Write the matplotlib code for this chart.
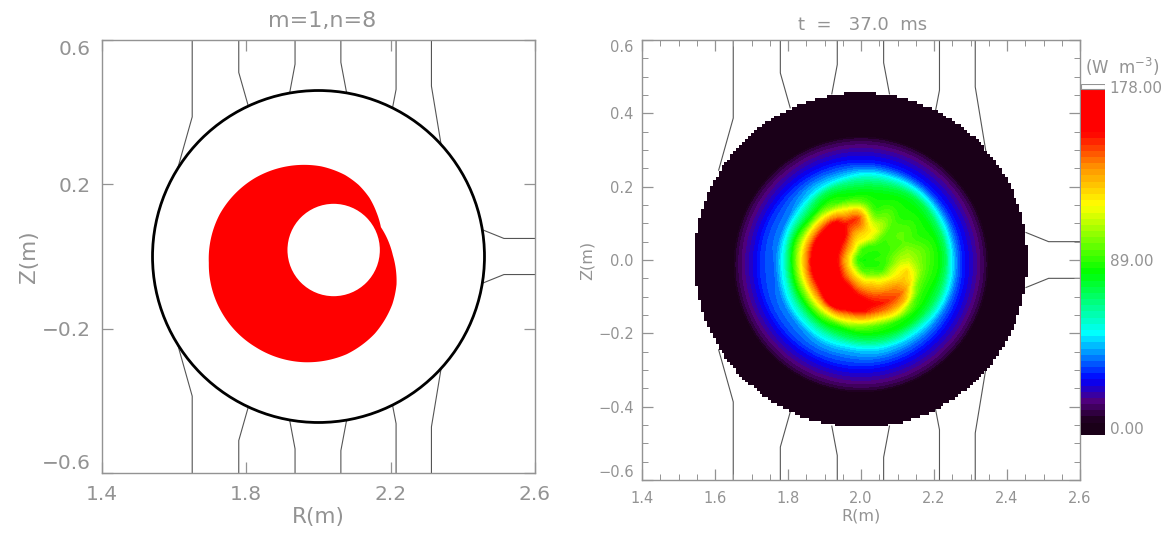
import numpy as np
import matplotlib
matplotlib.use("Agg")
import matplotlib.pyplot as plt
from matplotlib.colors import LinearSegmentedColormap, ListedColormap
from matplotlib.patches import Circle, Polygon, Rectangle

W, H = 1166, 534
GREY = "#939393"
DARK = "#1a0018"

# wall structures, upper half (mirrored for the lower half)
coil_r = [
    [1.650, 1.650, 1.610],
    [1.779, 1.779, 1.806],
    [1.935, 1.935, 1.920],
    [2.062, 2.062, 2.078],
    [2.215, 2.215, 2.204],
    [2.313, 2.313, 2.342],
]
coil_z = [
    [0.600, 0.387, 0.245],
    [0.600, 0.510, 0.415],
    [0.600, 0.533, 0.453],
    [0.600, 0.538, 0.453],
    [0.600, 0.463, 0.406],
    [0.600, 0.472, 0.297],
]
port_r = [2.600, 2.514, 2.452]
port_z = [0.050, 0.050, 0.075]

# plasma boundary
plasma_r0 = 2.0
plasma_radius = 0.46
disc_radius = 0.456

# red region in left panel, radius against angle around (1.96, -0.018)
red_r0 = 1.96
red_z0 = -0.018
red_angle = [25, 35, 45, 55, 65, 80, 120, 150, 180, 210, 240, 270, 295, 315, 335, 347, 365, 385]
red_radius = [0.235, 0.245, 0.256, 0.264, 0.269, 0.272, 0.272, 0.270, 0.264, 0.266, 0.269, 0.275,
              0.279, 0.277, 0.270, 0.263, 0.247, 0.235]

hole_r = 2.042
hole_z = 0.018
hole_radius = 0.128

# emissivity table, W m-3, polar around (2.03, 0), one row per angle
field_r0 = 2.03
field_centre = 88
field_radii = [0.02, 0.04, 0.06, 0.08, 0.10, 0.12, 0.14, 0.16, 0.18, 0.20,
               0.22, 0.24, 0.26, 0.28, 0.30, 0.33, 0.36, 0.40]
field_angles = list(range(0, 360, 15))
field_values = [
    [90, 92, 100, 108, 110, 104, 98, 92, 86, 74, 52, 38, 28, 20, 12, 3, 0, 0],
    [90, 91, 96, 100, 102, 98, 94, 90, 85, 73, 52, 38, 28, 20, 12, 3, 0, 0],
    [88, 90, 92, 94, 96, 94, 90, 87, 84, 72, 54, 38, 28, 20, 12, 3, 0, 0],
    [88, 90, 92, 94, 95, 94, 90, 87, 84, 76, 58, 42, 30, 22, 14, 4, 0, 0],
    [88, 90, 92, 94, 95, 94, 90, 87, 85, 78, 62, 48, 34, 24, 15, 5, 0, 0],
    [88, 91, 100, 108, 106, 98, 92, 87, 84, 76, 62, 48, 34, 26, 16, 6, 0, 0],
    [88, 92, 112, 120, 114, 104, 94, 88, 84, 76, 64, 50, 36, 28, 20, 8, 0, 0],
    [88, 92, 118, 125, 135, 140, 125, 100, 86, 78, 66, 48, 36, 28, 22, 10, 0, 0],
    [88, 92, 118, 128, 142, 152, 136, 116, 92, 84, 72, 50, 38, 29, 23, 11, 0, 0],
    [88, 92, 118, 135, 152, 162, 158, 135, 108, 85, 72, 52, 40, 30, 24, 12, 0, 0],
    [86, 94, 122, 142, 160, 170, 170, 148, 122, 90, 70, 52, 38, 28, 23, 13, 0, 0],
    [86, 92, 120, 142, 160, 172, 175, 157, 133, 105, 80, 55, 40, 30, 23, 13, 0, 0],
    [84, 90, 118, 140, 160, 172, 175, 162, 137, 110, 82, 56, 42, 30, 24, 13, 0, 0],
    [86, 92, 118, 140, 160, 172, 175, 160, 136, 108, 82, 58, 44, 32, 25, 14, 0, 0],
    [86, 94, 120, 140, 158, 172, 175, 157, 133, 105, 80, 60, 46, 34, 27, 15, 0, 0],
    [86, 94, 120, 140, 158, 170, 175, 165, 130, 102, 78, 60, 46, 34, 28, 15, 0, 0],
    [88, 96, 120, 138, 155, 168, 172, 148, 122, 90, 75, 58, 46, 34, 28, 15, 0, 0],
    [88, 98, 120, 136, 150, 164, 160, 135, 108, 85, 72, 54, 42, 30, 24, 12, 0, 0],
    [88, 100, 122, 135, 148, 158, 148, 124, 96, 84, 70, 52, 40, 30, 23, 11, 0, 0],
    [88, 98, 118, 132, 145, 152, 140, 118, 90, 82, 66, 48, 36, 28, 22, 8, 0, 0],
    [88, 95, 115, 130, 142, 148, 136, 113, 88, 80, 60, 44, 32, 26, 20, 6, 0, 0],
    [88, 92, 110, 125, 135, 138, 122, 96, 86, 76, 58, 40, 30, 24, 16, 4, 0, 0],
    [88, 92, 108, 120, 128, 124, 102, 90, 84, 74, 56, 38, 27, 20, 12, 3, 0, 0],
    [88, 92, 104, 116, 122, 112, 98, 90, 85, 73, 54, 38, 27, 20, 12, 3, 0, 0],
]

# outer rings are close to circular around (2.0, -0.012)
ring_z0 = -0.012
ring_rho = [0.245, 0.26, 0.28, 0.30, 0.32, 0.34, 0.347, 0.35, 0.47]
ring_val = [50, 40, 30, 24, 18, 11, 7, 0, 0]

vmax = 178.0
cbar_labels = ["0.00", "89.00", "178.00"]


def px_axes(fig, x0, y0, x1, y1):
    return fig.add_axes([x0 / W, 1 - y1 / H, (x1 - x0) / W, (y1 - y0) / H])


def draw_wall(ax):
    for r, z in zip(coil_r, coil_z):
        ax.plot(r, z, color="#555555", lw=0.8, zorder=1)
        ax.plot(r, -np.array(z), color="#555555", lw=0.8, zorder=1)
    ax.plot(port_r, port_z, color="#555555", lw=0.8, zorder=1)
    ax.plot(port_r, -np.array(port_z), color="#555555", lw=0.8, zorder=1)


def style_axes(ax, xt, yt, fs, ln, xpad, ypad):
    ax.set_xlim(1.4, 2.6)
    ax.set_ylim(-0.6, 0.6)
    ax.set_xticks(xt)
    ax.set_yticks(yt)
    ax.set_xticklabels([f"{v:.1f}" for v in xt])
    ax.set_yticklabels([f"{v:.1f}".replace("-", "\u2212") for v in yt])
    ax.tick_params(which="major", direction="in", top=True, right=True, length=ln, width=0.9,
                   color=GREY, labelcolor=GREY, labelsize=fs)
    ax.tick_params(axis="x", pad=xpad)
    ax.tick_params(axis="y", pad=ypad)
    # end labels sit inside the axis range
    labs = ax.get_yticklabels()
    labs[0].set_va("bottom")
    labs[-1].set_va("top")
    for s in ax.spines.values():
        s.set_color(GREY)
        s.set_linewidth(1.0)
    ax.set_xlabel("R(m)", color=GREY, fontsize=fs + 1, labelpad=2)
    ax.set_ylabel("Z(m)", color=GREY, fontsize=fs + 1, labelpad=2)


fig = plt.figure(figsize=(W / 100, H / 100), dpi=100)

# left panel
ax1 = px_axes(fig, 102, 40, 535, 473)
draw_wall(ax1)
ax1.add_patch(Circle((plasma_r0, 0), plasma_radius, fc="white", ec="black", lw=2.0, zorder=2))
phi = np.linspace(red_angle[0], red_angle[-1], 361)
red_rad = np.interp(phi, red_angle, red_radius)
red_xy = np.column_stack([red_r0 + red_rad * np.cos(np.radians(phi)),
                          red_z0 + red_rad * np.sin(np.radians(phi))])
ax1.add_patch(Polygon(red_xy, closed=True, fc="#ff0000", ec="none", zorder=3))
ax1.add_patch(Circle((hole_r, hole_z), hole_radius, fc="white", ec="none", zorder=4))
style_axes(ax1, [1.4, 1.8, 2.2, 2.6], [-0.6, -0.2, 0.2, 0.6], 14.5, 8, 9, 8)
fig.text(322 / W, 1 - 21 / H, "m=1,n=8", color=GREY, fontsize=16, ha="center", va="center")

# right panel
ax2 = px_axes(fig, 642, 40, 1080, 480)
draw_wall(ax2)

cmap = LinearSegmentedColormap.from_list("rainbow_black", [
    (0.0, DARK), (0.03, DARK), (0.09, "#50007a"), (0.155, "#0000ff"), (0.29, "#00ffff"),
    (0.47, "#00ff00"), (0.667, "#ffff00"), (0.78, "#ff9000"), (0.88, "#ff0000"), (1.0, "#ff0000"),
]).resampled(56)
levels = np.linspace(0, vmax, 57)

# jagged edge of the plasma region comes from the coarse grid
step = 0.008
edges_r = np.arange(1.53, 2.48, step)
edges_z = np.arange(-0.47, 0.48, step)
mid_r, mid_z = np.meshgrid(edges_r[:-1] + step / 2, edges_z[:-1] + step / 2)
inside = np.ma.masked_where((mid_r - plasma_r0) ** 2 + mid_z ** 2 > disc_radius ** 2,
                            np.ones_like(mid_r))
ax2.pcolormesh(edges_r, edges_z, inside, cmap=ListedColormap([DARK]), zorder=2)

# table on a fine polar mesh: periodic in angle, linear in radius
table = np.array(field_values, dtype=float)
n_fine = 360
spec = np.fft.rfft(table, axis=0)
fine_angle = np.fft.irfft(spec, n=n_fine, axis=0) * n_fine / table.shape[0]
fine_angle = np.vstack([fine_angle, fine_angle[0]])
theta = np.linspace(0, 2 * np.pi, n_fine + 1)
rad = np.linspace(0, 0.42, 400)
knots = np.concatenate([[0.0], field_radii])
polar = np.array([np.interp(rad, knots, np.concatenate([[field_centre], row])) for row in fine_angle])
rr, tt = np.meshgrid(rad, theta)
X = field_r0 + rr * np.cos(tt)
Y = rr * np.sin(tt)
rho = np.hypot(X - plasma_r0, Y - ring_z0)
ring = np.interp(rho, ring_rho, ring_val)
blend = np.clip((rho - 0.235) / 0.04, 0, 1)
F = (1 - blend) * polar + blend * ring
ax2.contourf(X, Y, np.clip(F, 0, vmax), levels=levels, cmap=cmap, zorder=3)

style_axes(ax2, [1.4, 1.6, 1.8, 2.0, 2.2, 2.4, 2.6], [-0.6, -0.4, -0.2, 0.0, 0.2, 0.4, 0.6],
           10.5, 8, 8, 6)
ax2.set_xticks(np.arange(1.4, 2.601, 0.05), minor=True)
ax2.set_yticks(np.arange(-0.6, 0.601, 0.05), minor=True)
ax2.tick_params(which="minor", direction="in", top=True, right=True, length=4, width=0.7, color=GREY)
fig.text(863 / W, 1 - 25 / H, "t  =   37.0  ms", color=GREY, fontsize=13, ha="center", va="center")

# colour bar
cax = px_axes(fig, 1081, 84, 1105, 435)
top = vmax * (351 / 346)
band = np.linspace(0, vmax, 57)
cax.pcolormesh([0, 1], band, (band[:-1] + band[1:])[:, None] / 2, cmap=cmap, vmin=0, vmax=vmax)
cax.add_patch(Rectangle((0, vmax), 1, top - vmax, fc="white", ec=GREY, lw=0.8))
cax.set_xlim(0, 1)
cax.set_ylim(0, top)
cax.axis("off")
for val, lab in zip([vmax * 0.015, vmax / 2, vmax], cbar_labels):
    cax.text(1.2, val, lab, color=GREY, fontsize=11, va="center", ha="left", clip_on=False)
fig.text(1085 / W, 1 - 67 / H, "(W  m$^{-3}$)", color=GREY, fontsize=12, va="center", ha="left")

fig.savefig("out.png", dpi=100)
